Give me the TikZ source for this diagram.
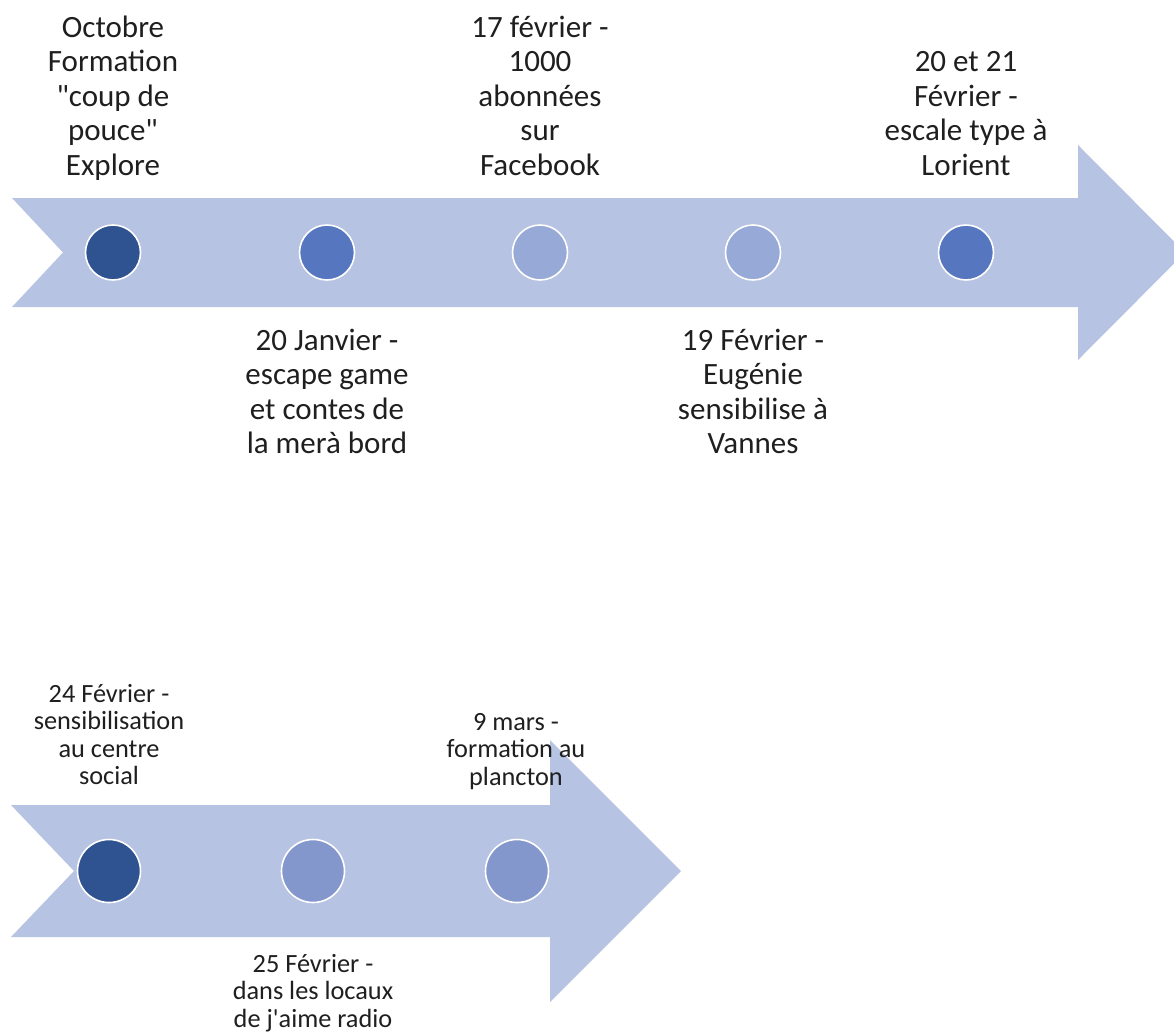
\documentclass[tikz,border=0pt]{standalone}
\usepackage{fontspec}
\setmainfont{Carlito}[Ligatures=TeXOff]
\definecolor{arrowfill}{HTML}{B7C3E2}
\definecolor{dotdark}{HTML}{2F5290}
\definecolor{dotmid}{HTML}{5677BF}
\definecolor{dotlight}{HTML}{97A9D6}
\definecolor{dotlav}{HTML}{8497CD}
\definecolor{txt}{HTML}{1F1F1F}
\newcommand{\bigtxt}{\fontsize{31}{34.5}\selectfont}
\newcommand{\smalltxt}{\fontsize{26.3}{27.5}\selectfont}
\tikzset{
  arrowshape/.style={fill=arrowfill, draw=none},
  dotbig/.style={circle, draw=white, line width=1.6pt, minimum size=55pt, inner sep=0pt},
  dotsmall/.style={circle, draw=white, line width=1.6pt, minimum size=63pt, inner sep=0pt},
  lbltop/.style={anchor=north, inner sep=0pt, align=center, text=txt, font=\bigtxt},
  lblbot/.style={anchor=north, inner sep=0pt, align=center, text=txt, font=\smalltxt},
}
\begin{document}
\begin{tikzpicture}[x=1pt, y=-1pt]
\useasboundingbox (0,0) rectangle (1174,1034);
\fill[white] (0,0) rectangle (1174,1034);
% top arrow
\fill[arrowshape] (12,198) -- (1078,198) -- (1078,145) -- (1185,252.5) -- (1078,360) -- (1078,307) -- (12,307) -- (63,252.5) -- cycle;
% bottom arrow
\fill[arrowshape] (11,805) -- (550,805) -- (550,740) -- (681,871) -- (550,1002) -- (550,937) -- (11,937) -- (74,871) -- cycle;
% top dots
\node[dotbig, fill=dotdark] (d1) at (113,252.5) {};
\node[dotbig, fill=dotmid] (d2) at (327,252.5) {};
\node[dotbig, fill=dotlight] (d3) at (540,252.5) {};
\node[dotbig, fill=dotlight] (d4) at (753,252.5) {};
\node[dotbig, fill=dotmid] (d5) at (966,252.5) {};
% bottom dots
\node[dotsmall, fill=dotdark] (e1) at (109,871) {};
\node[dotsmall, fill=dotlav] (e2) at (313,871) {};
\node[dotsmall, fill=dotlav] (e3) at (517,871) {};
% top labels
\node[lbltop] (t1) at (113,12.85) {\strut Octobre\\\strut Formation\\\strut "coup de\\\strut pouce"\\\strut Explore};
\node[lbltop] (t3) at (540,12.85) {\strut 17 février -\\\strut 1000\\\strut abonnées\\\strut sur\\\strut Facebook};
\node[lbltop] (t5) at (966,47.35) {\strut 20 et 21\\\strut Février -\\\strut escale type à\\\strut Lorient};
\node[lbltop] (t2) at (327,325.85) {\strut 20 Janvier -\\\strut escape game\\\strut et contes de\\\strut la merà bord};
\node[lbltop] (t4) at (753,325.85) {\strut 19 Février -\\\strut Eugénie\\\strut sensibilise à\\\strut Vannes};
% bottom labels
\node[lblbot] (b1) at (109,682.75) {\strut 24 Février -\\\strut sensibilisation\\\strut au centre\\\strut social};
\node[lblbot] (b3) at (516,710.75) {\strut 9 mars -\\\strut formation au\\\strut plancton};
\node[lblbot] (b2) at (313,952.75) {\strut 25 Février -\\\strut dans les locaux\\\strut de j'aime radio};
\end{tikzpicture}
\end{document}
